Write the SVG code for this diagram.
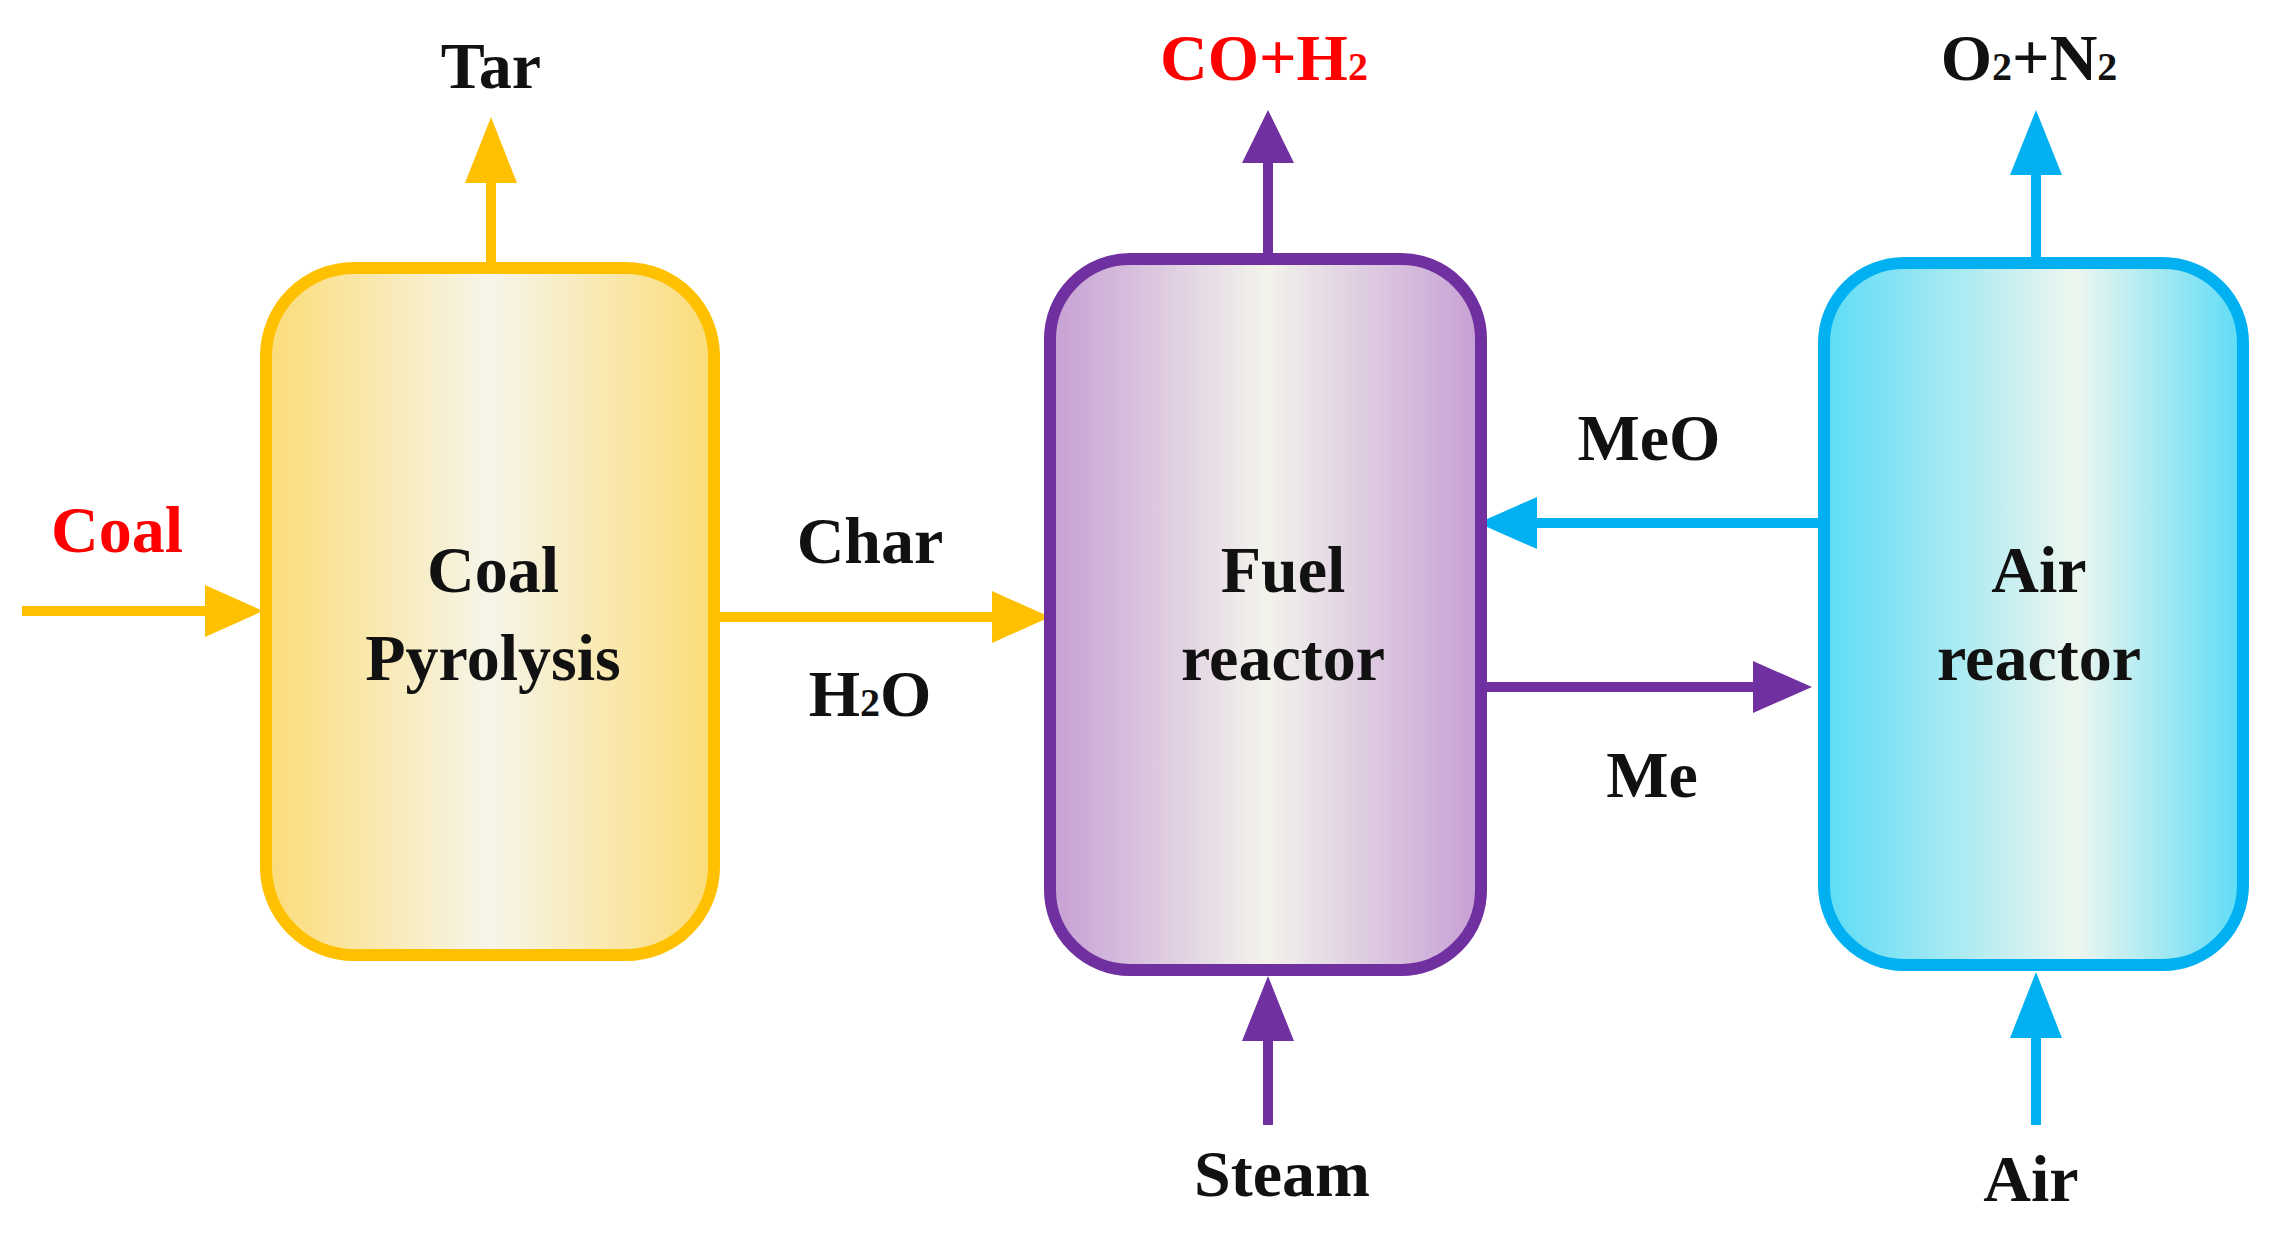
<svg xmlns="http://www.w3.org/2000/svg" width="2280" height="1234" viewBox="0 0 2280 1234">
<defs>
<linearGradient id="gy" x1="0" x2="1" y1="0" y2="0"><stop offset="0" stop-color="#fcdc78"/><stop offset="0.5" stop-color="#f6f5ea"/><stop offset="1" stop-color="#fcdc78"/></linearGradient>
<linearGradient id="gp" x1="0" x2="1" y1="0" y2="0"><stop offset="0" stop-color="#c69fd4"/><stop offset="0.5" stop-color="#f3f3ec"/><stop offset="1" stop-color="#c69fd4"/></linearGradient>
<linearGradient id="gc" x1="0" x2="1" y1="0" y2="0"><stop offset="0" stop-color="#5cdcf6"/><stop offset="0.6" stop-color="#eef6ef"/><stop offset="1" stop-color="#5cdcf6"/></linearGradient>
<style>
text{font-family:"Liberation Serif","Times New Roman",serif;font-weight:bold;font-size:66px;text-anchor:middle;fill:#111}
.red{fill:#ff0000}
.box{stroke-width:12}
.ly{stroke:#ffc000;stroke-width:10;fill:none}
.lp{stroke:#7030a0;stroke-width:10;fill:none}
.lc{stroke:#00b0f0;stroke-width:10;fill:none}
</style>
</defs>
<g id="connectors">
<line class="ly" x1="491" y1="266" x2="491" y2="175"/><polygon fill="#ffc000" points="491,117 465,183 517,183"/>
<line class="ly" x1="22" y1="611" x2="210" y2="611"/><polygon fill="#ffc000" points="263,611 205,585 205,637"/>
<line class="ly" x1="716" y1="617" x2="1000" y2="617"/><polygon fill="#ffc000" points="1050,617 992,591 992,643"/>
<line class="lp" x1="1268" y1="256" x2="1268" y2="155"/><polygon fill="#7030a0" points="1268,110 1242,163 1294,163"/>
<line class="lc" x1="1818" y1="523" x2="1530" y2="523"/><polygon fill="#00b0f0" points="1478,523 1537,497 1537,549"/>
<line class="lp" x1="1482" y1="687" x2="1760" y2="687"/><polygon fill="#7030a0" points="1812,687 1753,661 1753,713"/>
<line class="lp" x1="1268" y1="1125" x2="1268" y2="1035"/><polygon fill="#7030a0" points="1268,976 1242,1041 1294,1041"/>
<line class="lc" x1="2036" y1="260" x2="2036" y2="168"/><polygon fill="#00b0f0" points="2036,110 2010,175 2062,175"/>
<line class="lc" x1="2036" y1="1125" x2="2036" y2="1032"/><polygon fill="#00b0f0" points="2036,972 2010,1038 2062,1038"/>
</g>
<g id="coal-pyrolysis"><rect class="box" x="266" y="268" width="448" height="687" rx="88" fill="url(#gy)" stroke="#ffc000"/><text x="493" y="592">Coal</text><text x="493" y="680">Pyrolysis</text></g>
<g id="fuel-reactor"><rect class="box" x="1050" y="259" width="431" height="711" rx="80" fill="url(#gp)" stroke="#7030a0"/><text x="1283" y="592">Fuel</text><text x="1283" y="680">reactor</text></g>
<g id="air-reactor"><rect class="box" x="1824" y="263" width="419" height="702" rx="80" fill="url(#gc)" stroke="#00b0f0"/><text x="2039" y="592">Air</text><text x="2039" y="680">reactor</text></g>
<g id="labels">
<text x="491" y="88">Tar</text>
<text x="117" y="552" class="red">Coal</text>
<text x="870" y="563">Char</text>
<text x="870" y="716">H<tspan font-size="40">2</tspan>O</text>
<text x="1264" y="80" class="red">CO+H<tspan font-size="40">2</tspan></text>
<text x="2029" y="80">O<tspan font-size="40">2</tspan>+N<tspan font-size="40">2</tspan></text>
<text x="1649" y="460">MeO</text>
<text x="1652" y="797">Me</text>
<text x="1282" y="1196">Steam</text>
<text x="2031" y="1201">Air</text>
</g>
</svg>
